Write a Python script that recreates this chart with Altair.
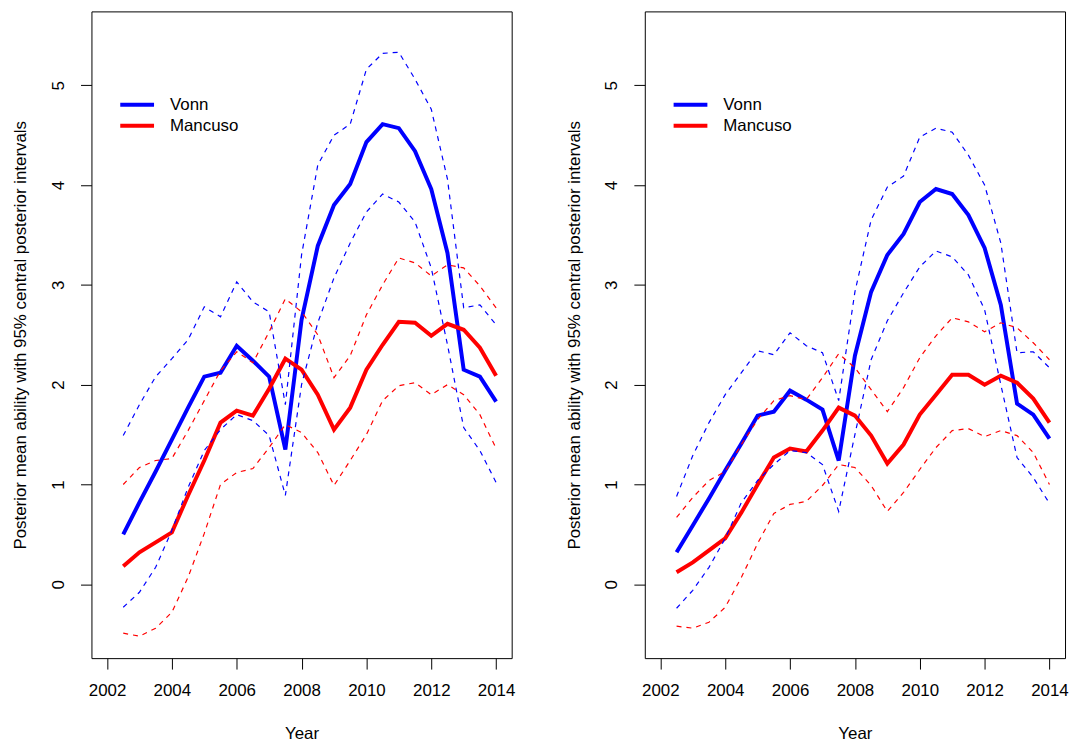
import altair as alt
import pandas as pd

years = [2002.5, 2003.0, 2003.5, 2004.0, 2004.5, 2005.0, 2005.5, 2006.0, 2006.5, 2007.0, 2007.5, 2008.0,
         2008.5, 2009.0, 2009.5, 2010.0, 2010.5, 2011.0, 2011.5, 2012.0, 2012.5, 2013.0, 2013.5, 2014.0]

# Left panel
vonn_mean_L = [0.50, 0.82, 1.13, 1.45, 1.77, 2.08, 2.12, 2.39, 2.24, 2.08, 1.35, 2.65,
               3.39, 3.80, 4.01, 4.43, 4.61, 4.57, 4.34, 3.96, 3.32, 2.15, 2.08, 1.83]
vonn_lo_L = [-0.23, -0.08, 0.17, 0.54, 0.97, 1.34, 1.55, 1.70, 1.64, 1.49, 0.89, 2.00,
             2.62, 3.07, 3.42, 3.73, 3.91, 3.83, 3.63, 3.17, 2.40, 1.57, 1.34, 1.02]
vonn_hi_L = [1.49, 1.80, 2.08, 2.26, 2.45, 2.78, 2.68, 3.03, 2.83, 2.73, 1.80, 3.30,
             4.20, 4.50, 4.61, 5.16, 5.32, 5.33, 5.06, 4.76, 4.06, 2.77, 2.80, 2.60]
manc_mean_L = [0.18, 0.32, 0.42, 0.52, 0.89, 1.24, 1.62, 1.74, 1.69, 1.96, 2.26, 2.15,
               1.90, 1.55, 1.77, 2.15, 2.40, 2.63, 2.62, 2.49, 2.61, 2.55, 2.37, 2.09]
manc_lo_L = [-0.49, -0.52, -0.44, -0.28, 0.07, 0.51, 1.00, 1.12, 1.16, 1.37, 1.60, 1.52,
             1.32, 0.99, 1.24, 1.50, 1.84, 1.99, 2.02, 1.90, 2.00, 1.90, 1.70, 1.36]
manc_hi_L = [1.00, 1.17, 1.24, 1.26, 1.54, 1.84, 2.14, 2.33, 2.22, 2.53, 2.86, 2.73,
             2.50, 2.07, 2.29, 2.70, 3.00, 3.27, 3.22, 3.09, 3.20, 3.17, 2.99, 2.77]

# Right panel
vonn_mean_R = [0.32, 0.59, 0.86, 1.14, 1.41, 1.69, 1.73, 1.94, 1.85, 1.75, 1.24, 2.29,
               2.93, 3.30, 3.51, 3.83, 3.96, 3.91, 3.70, 3.37, 2.80, 1.81, 1.70, 1.46]
vonn_lo_R = [-0.24, -0.06, 0.17, 0.46, 0.82, 1.04, 1.20, 1.34, 1.32, 1.20, 0.73, 1.50,
             2.25, 2.64, 2.92, 3.18, 3.34, 3.28, 3.10, 2.75, 2.00, 1.27, 1.07, 0.81]
vonn_hi_R = [0.88, 1.29, 1.62, 1.90, 2.12, 2.34, 2.30, 2.52, 2.39, 2.32, 1.84, 2.93,
             3.65, 3.98, 4.09, 4.48, 4.57, 4.53, 4.30, 4.00, 3.42, 2.32, 2.33, 2.17]
manc_mean_R = [0.12, 0.22, 0.34, 0.46, 0.72, 1.00, 1.27, 1.36, 1.33, 1.54, 1.77, 1.69,
               1.49, 1.21, 1.40, 1.70, 1.90, 2.10, 2.10, 2.00, 2.09, 2.02, 1.86, 1.62]
manc_lo_R = [-0.42, -0.44, -0.38, -0.23, 0.07, 0.41, 0.71, 0.80, 0.83, 0.99, 1.20, 1.17,
             0.99, 0.73, 0.92, 1.15, 1.37, 1.54, 1.56, 1.48, 1.54, 1.49, 1.32, 1.00]
manc_hi_R = [0.67, 0.87, 1.04, 1.13, 1.40, 1.65, 1.84, 1.89, 1.85, 2.07, 2.31, 2.17,
             1.95, 1.73, 1.97, 2.27, 2.49, 2.67, 2.63, 2.53, 2.62, 2.57, 2.42, 2.25]

athletes = ["Vonn", "Mancuso"]
colors = ["#0000ff", "#ff0000"]
x_ticks = [2002, 2004, 2006, 2008, 2010, 2012, 2014]
y_ticks = [0, 1, 2, 3, 4, 5]
FONT = "Liberation Sans"
YTITLE = "Posterior mean ability with 95% central posterior intervals"


def panel(vm, vl, vh, mm, ml, mh):
    rows = []
    for i, yr in enumerate(years):
        rows.append(dict(year=yr, athlete="Vonn", mean=vm[i], lo=vl[i], hi=vh[i]))
        rows.append(dict(year=yr, athlete="Mancuso", mean=mm[i], lo=ml[i], hi=mh[i]))
    df = pd.DataFrame(rows)
    base = alt.Chart(df)
    x = alt.X("year:Q",
              scale=alt.Scale(domain=[2001.52, 2014.48], nice=False, zero=False),
              axis=alt.Axis(values=x_ticks, format="d", title="Year",
                            labelPadding=14, titlePadding=27))
    yscale = alt.Scale(domain=[-0.74, 5.74], nice=False, zero=False)
    yaxis = alt.Axis(values=y_ticks, title=YTITLE, labelAngle=270,
                     labelAlign="center", labelBaseline="alphabetic",
                     labelPadding=17, titlePadding=20)
    color = alt.Color("athlete:N",
                      scale=alt.Scale(domain=athletes, range=colors),
                      legend=alt.Legend(title=None, orient="none", legendX=34, legendY=82,
                                        symbolType="M-1.7,0H1.7", symbolSize=400,
                                        symbolStrokeWidth=4, symbolDash=[1, 0],
                                        labelFontSize=17, labelFont=FONT,
                                        labelColor="black", labelOffset=21,
                                        rowPadding=1, padding=0))
    mean = base.mark_line(strokeWidth=4).encode(
        x=x, y=alt.Y("mean:Q", scale=yscale, axis=yaxis), color=color)
    lo = base.mark_line(strokeWidth=1.2, strokeDash=[5, 5]).encode(
        x=x, y=alt.Y("lo:Q", scale=yscale, axis=yaxis), color=color)
    hi = base.mark_line(strokeWidth=1.2, strokeDash=[5, 5]).encode(
        x=x, y=alt.Y("hi:Q", scale=yscale, axis=yaxis), color=color)
    return alt.layer(mean, lo, hi).properties(width=423, height=651)


left = panel(vonn_mean_L, vonn_lo_L, vonn_hi_L, manc_mean_L, manc_lo_L, manc_hi_L)
right = panel(vonn_mean_R, vonn_lo_R, vonn_hi_R, manc_mean_R, manc_lo_R, manc_hi_R)

chart = alt.hconcat(left, right, spacing=49).resolve_scale(
    color="independent").resolve_legend(color="independent").properties(
    padding={"left": 3, "top": 0, "right": 0, "bottom": 0}
).configure_axis(
    domain=False, grid=False, tickColor="black", tickSize=11, tickWidth=1,
    labelFont=FONT, labelFontSize=17, labelColor="black",
    titleFont=FONT, titleFontSize=17, titleFontWeight="normal", titleColor="black"
).configure_view(stroke="black", strokeWidth=1)

chart.save("out.html", embed_options={"renderer": "svg", "actions": False})
